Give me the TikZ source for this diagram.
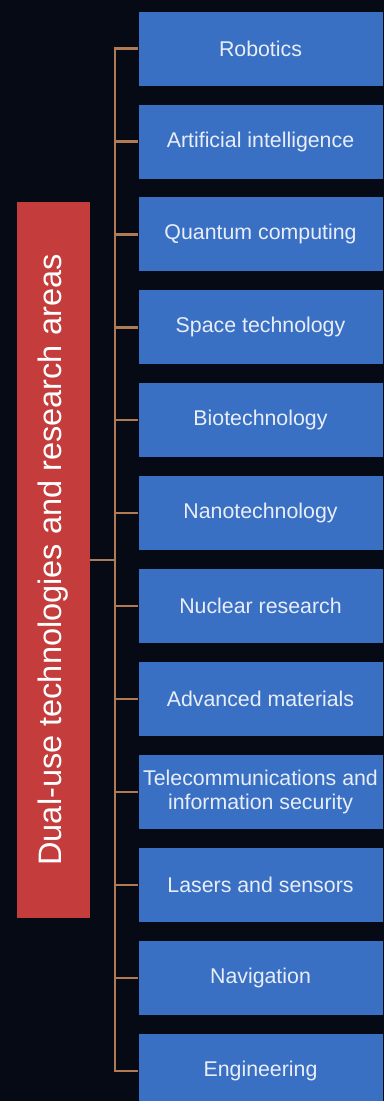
\documentclass[tikz,border=0pt]{standalone}
\usepackage{fontspec}
\setmainfont{Liberation Sans}
\usepackage{tikz}

\definecolor{bgdark}{RGB}{6,10,20}
\definecolor{areablue}{RGB}{58,112,196}
\definecolor{mainred}{RGB}{196,60,60}
\definecolor{linkbrown}{RGB}{176,122,85}
\definecolor{textwhite}{RGB}{232,238,248}

\tikzset{
  area/.style={fill=areablue, draw=none, text=textwhite, minimum width=183pt, minimum height=55.5pt,
    inner sep=0pt, align=center, font=\fontsize{16}{17.5}\selectfont},
  mainbox/.style={fill=mainred, draw=none, text=white, rotate=90, minimum width=537pt, minimum height=54.75pt,
    inner sep=0pt, font=\fontsize{24.4}{28}\selectfont},
  link/.style={draw=linkbrown, line width=1.7pt}
}

\begin{document}
\begin{tikzpicture}[x=0.75pt,y=0.75pt,yscale=-1,xscale=1]
%background, set diagram size 384 x 1101
\fill [bgdark] (0,0) rectangle (384,1101);
\useasboundingbox (0,0) rectangle (384,1101);

%Shape: Rectangle, left title box
\node [mainbox] (dual) at (53.5,560) {Dual-use technologies and research areas};

%Shape: Rectangle, research areas
\node [area] (rob) at (260.5,48.5) {Robotics};
\node [area] (ai) at (260.5,141.5) {Artificial intelligence};
\node [area] (quant) at (260.5,234.4) {Quantum computing};
\node [area] (space) at (260.5,327.4) {Space technology};
\node [area] (bio) at (260.5,420.3) {Biotechnology};
\node [area] (nano) at (260.5,513.3) {Nanotechnology};
\node [area] (nuc) at (260.5,606.2) {Nuclear research};
\node [area] (mat) at (260.5,699.2) {Advanced materials};
\node [area] (tele) at (260.5,792.1) {Telecommunications and\\information security};
\node [area] (laser) at (260.5,885.1) {Lasers and sensors};
\node [area] (nav) at (260.5,978) {Navigation};
\node [area] (eng) at (260.5,1071) {Engineering};

%Straight Lines: trunk and branches
\coordinate (trunk) at (115,560);
\draw [link] (dual.south) -- (trunk);
\draw [link] (rob.west) -| (trunk);
\draw [link] (eng.west) -| (trunk);
\draw [link] (ai.west) -- (ai.west -| trunk);
\draw [link] (quant.west) -- (quant.west -| trunk);
\draw [link] (space.west) -- (space.west -| trunk);
\draw [link] (bio.west) -- (bio.west -| trunk);
\draw [link] (nano.west) -- (nano.west -| trunk);
\draw [link] (nuc.west) -- (nuc.west -| trunk);
\draw [link] (mat.west) -- (mat.west -| trunk);
\draw [link] (tele.west) -- (tele.west -| trunk);
\draw [link] (laser.west) -- (laser.west -| trunk);
\draw [link] (nav.west) -- (nav.west -| trunk);

\end{tikzpicture}
\end{document}
